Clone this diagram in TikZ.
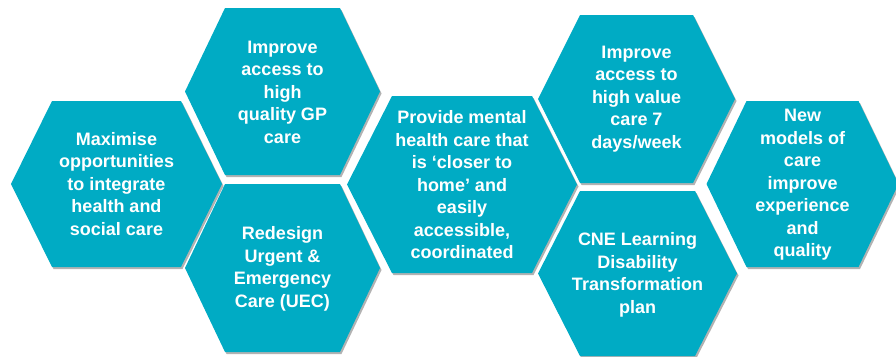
\documentclass[tikz,border=0pt]{standalone}
\usepackage{fontspec}
\setmainfont{Liberation Sans}
\usetikzlibrary{shadows}

\definecolor{hexteal}{RGB}{0,171,196}
\tikzstyle{cell}=[fill=hexteal, drop shadow={shadow xshift=1.5pt, shadow yshift=-2pt, fill=black, opacity=0.3}]
\tikzstyle{celltext}=[text=white, align=center, inner sep=0pt, font=\fontsize{18}{22.5}\selectfont\bfseries]
% centre x, centre y, half width, half height, inset of the top edge
\newcommand{\hexcell}[5]{%
  \path[cell] ({#1-#3},#2) -- ({#1-#3+#5},{#2-#4}) -- ({#1+#3-#5},{#2-#4})
    -- ({#1+#3},#2) -- ({#1+#3-#5},{#2+#4}) -- ({#1-#3+#5},{#2+#4}) -- cycle;}

\begin{document}
\begin{tikzpicture}[x=1pt, y=-1pt]
\useasboundingbox (0,0) rectangle (896,356);
\hexcell{116.5}{184}{105.5}{83}{41}
\hexcell{282.5}{91.5}{97.5}{83.5}{40}
\hexcell{282.5}{268}{97.5}{84}{40}
\hexcell{462}{184.5}{115}{88.5}{45}
\hexcell{636.5}{99}{98.5}{84}{42}
\hexcell{637.5}{273.5}{99.5}{82.5}{42}
\hexcell{802.5}{184}{96}{83}{40}
\node[celltext] (integrate) at (116.5,184) {Maximise\\opportunities\\to integrate\\health and\\social care};
\node[celltext] (gp)        at (282.5,92) {Improve\\access to\\high\\quality GP\\care};
\node[celltext] (uec)       at (282.5,269) {Redesign\\Urgent \&\\Emergency\\Care (UEC)};
\node[celltext] (mental)    at (462,185) {Provide mental\\health care that\\is ‘closer to\\home’ and\\easily\\accessible,\\coordinated};
\node[celltext] (sevenday)  at (636.5,99) {Improve\\access to\\high value\\care 7\\days/week};
\node[celltext] (cne)       at (637.5,275) {CNE Learning\\Disability\\Transformation\\plan};
\node[celltext] (models)    at (802.5,185) {New\\models of\\care\\improve\\experience\\and\\quality};
\end{tikzpicture}
\end{document}
